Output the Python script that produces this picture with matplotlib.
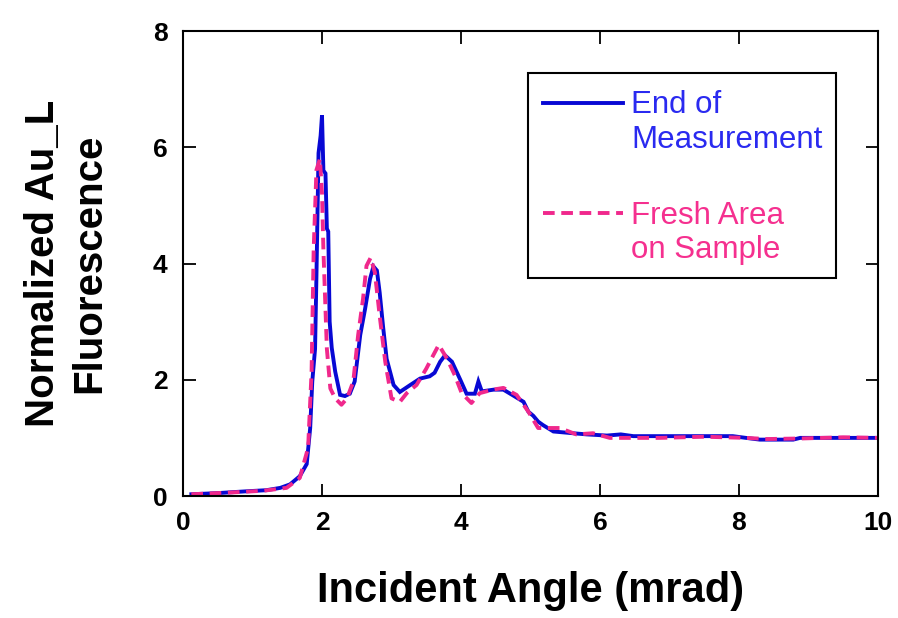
import matplotlib.pyplot as plt
from matplotlib.patches import Rectangle

# curva "End of Measurement" (azul)
x_end = [0.12, 0.5, 0.9, 1.2, 1.4, 1.54, 1.68, 1.78, 1.83, 1.86, 1.90, 1.92, 1.95, 1.98,
         2.00, 2.02, 2.05, 2.07, 2.09, 2.11, 2.14, 2.19, 2.26, 2.33, 2.40, 2.47, 2.55,
         2.62, 2.69, 2.74, 2.79, 2.83, 2.88, 2.93, 3.03, 3.12, 3.27, 3.41, 3.55, 3.62,
         3.70, 3.77, 3.87, 3.99, 4.08, 4.20, 4.25, 4.30, 4.47, 4.61, 4.75, 4.90, 4.97,
         5.04, 5.11, 5.18, 5.33, 5.61, 5.81, 6.1, 6.3, 6.48, 6.8, 7.2, 7.6, 7.91, 8.1,
         8.30, 8.78, 8.88, 9.4, 10.0]
y_end = [0.03, 0.05, 0.08, 0.1, 0.14, 0.2, 0.34, 0.55, 1.17, 1.97, 2.53, 3.79, 5.9, 6.2,
         6.55, 5.6, 5.55, 4.6, 4.55, 3.0, 2.55, 2.14, 1.74, 1.72, 1.76, 1.97, 2.77,
         3.22, 3.73, 3.95, 3.88, 3.5, 2.9, 2.36, 1.91, 1.79, 1.91, 2.02, 2.06, 2.12,
         2.31, 2.42, 2.31, 2.0, 1.76, 1.76, 1.97, 1.8, 1.83, 1.83, 1.73, 1.62, 1.45,
         1.38, 1.28, 1.22, 1.11, 1.08, 1.06, 1.04, 1.06, 1.03, 1.03, 1.03, 1.03, 1.03, 1.0,
         0.97, 0.97, 1.0, 1.0, 1.0]

# curva "Fresh Area on Sample" (rosa tracejada)
x_fresh = [0.12, 0.68, 1.15, 1.49, 1.68, 1.80, 1.85, 1.88, 1.92, 1.97, 2.00, 2.02, 2.07,
           2.12, 2.19, 2.28, 2.36, 2.45, 2.52, 2.59, 2.64, 2.70, 2.76, 2.83, 2.91, 3.00,
           3.12, 3.22, 3.36, 3.50, 3.60, 3.68, 3.80, 3.91, 4.01, 4.15, 4.27, 4.46, 4.61,
           4.80, 4.97, 5.11, 5.42, 5.66, 5.9, 6.14, 6.38, 6.86, 7.5, 8.1, 8.4, 8.9, 9.5, 10.0]
y_fresh = [0.03, 0.06, 0.09, 0.14, 0.31, 0.83, 2.14, 4.24, 5.61, 5.8, 5.21, 4.24, 2.53,
           1.85, 1.68, 1.57, 1.68, 1.97, 2.77, 3.39, 3.96, 4.1, 3.85, 3.1, 2.31, 1.68,
           1.62, 1.77, 1.91, 2.19, 2.42, 2.6, 2.36, 2.08, 1.77, 1.6, 1.77, 1.83, 1.86,
           1.74, 1.45, 1.17, 1.17, 1.06, 1.08, 1.0, 1.0, 1.0, 1.02, 1.0, 0.98, 0.99, 1.01, 1.0]

x_ticks = [0, 2, 4, 6, 8, 10]
y_ticks = [0, 2, 4, 6, 8]

blue = '#0808d4'
pink = '#f0288c'

plt.rcParams['font.family'] = ['Liberation Sans', 'DejaVu Sans']

fig = plt.figure(figsize=(8.98, 6.18), dpi=100)
ax = fig.add_axes([0.2038, 0.1974, 0.9777 - 0.2038, 0.9498 - 0.1974])

ax.plot(x_end, y_end, color=blue, lw=2.8, solid_joinstyle='miter')
ax.plot(x_fresh, y_fresh, color=pink, lw=2.8, dashes=(3.0, 1.7))

ax.set_xlim(0, 10)
ax.set_ylim(0, 8)
ax.set_xticks(x_ticks)
ax.set_yticks(y_ticks)
ax.tick_params(direction='in', length=9, width=1.3, top=True, right=True,
               labelsize=19, pad=11)
for lab in ax.get_xticklabels() + ax.get_yticklabels():
    lab.set_fontweight('bold')
for sp in ax.spines.values():
    sp.set_linewidth(1.5)

ax.set_xlabel('Incident Angle (mrad)', fontsize=30, fontweight='bold', labelpad=26)
ax.set_ylabel('Normalized Au_L\nFluorescence', fontsize=29, fontweight='bold',
              labelpad=32, linespacing=1.3)

# legenda desenhada à mão (linha alinhada com a primeira linha do texto)
ax.add_patch(Rectangle((0.496, 0.469), 0.444, 0.441, transform=ax.transAxes,
                       fill=False, edgecolor='black', lw=1.5, zorder=5))
ax.plot([0.518, 0.633], [0.845, 0.845], transform=ax.transAxes, color=blue, lw=2.8)
ax.plot([0.518, 0.633], [0.609, 0.609], transform=ax.transAxes, color=pink, lw=2.8,
        dashes=(3.0, 1.7))
ax.text(0.645, 0.803, 'End of\nMeasurement', transform=ax.transAxes, color='#2a2af0',
        fontsize=22.5, va='center', ha='left', linespacing=1.2)
ax.text(0.645, 0.566, 'Fresh Area\non Sample', transform=ax.transAxes, color='#f5308f',
        fontsize=22.5, va='center', ha='left', linespacing=1.2)

fig.savefig('out.png', dpi=100)
